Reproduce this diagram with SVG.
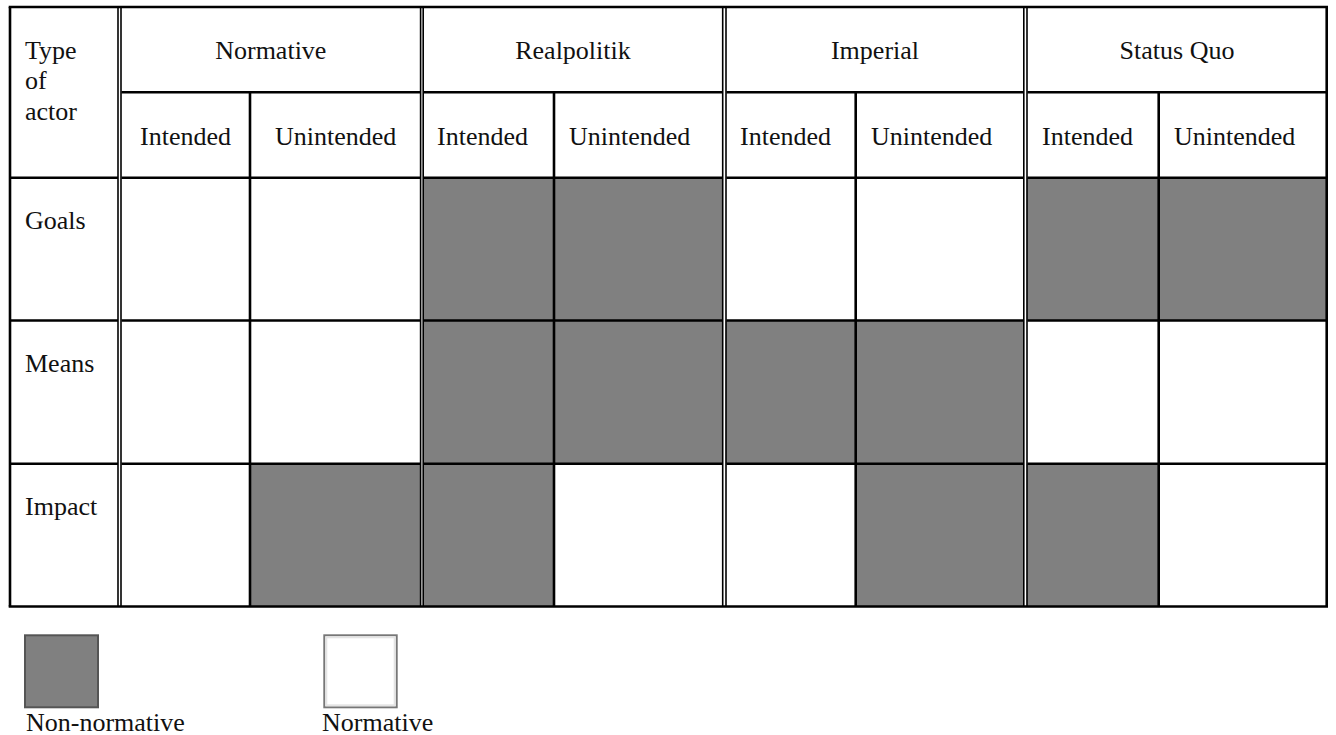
<svg xmlns="http://www.w3.org/2000/svg" width="1336" height="735" viewBox="0 0 1336 735">
<style>
.c{text-anchor:middle}
.g{fill:#808080}
.l{stroke:#000;stroke-width:2.6;fill:none}
.d{stroke:#000;stroke-width:1.6;fill:none}
</style>
<rect width="1336" height="735" fill="#fff"/>
<g id="cells">
<g id="row-goals">
<rect class="g" x="423" y="177.7" width="131" height="142.8"/>
<rect class="g" x="554" y="177.7" width="168.7" height="142.8"/>
<rect class="g" x="1026.8" y="177.7" width="131.9" height="142.8"/>
<rect class="g" x="1158.7" y="177.7" width="168" height="142.8"/>
</g>
<g id="row-means">
<rect class="g" x="423" y="320.5" width="131" height="143.2"/>
<rect class="g" x="554" y="320.5" width="168.7" height="143.2"/>
<rect class="g" x="725.8" y="320.5" width="129.9" height="143.2"/>
<rect class="g" x="855.7" y="320.5" width="167.8" height="143.2"/>
</g>
<g id="row-impact">
<rect class="g" x="250" y="463.7" width="170.5" height="142.8"/>
<rect class="g" x="423" y="463.7" width="131" height="142.8"/>
<rect class="g" x="855.7" y="463.7" width="167.8" height="142.8"/>
<rect class="g" x="1026.8" y="463.7" width="131.9" height="142.8"/>
</g>
</g>
<g id="grid">
<line class="l" x1="8.7" y1="7" x2="1328" y2="7"/>
<line class="l" x1="8.7" y1="606.5" x2="1328" y2="606.5"/>
<line class="l" x1="10" y1="7" x2="10" y2="606.5"/>
<line class="l" x1="1326.7" y1="7" x2="1326.7" y2="606.5"/>
<line class="d" x1="118" y1="7" x2="118" y2="606.5"/>
<line class="d" x1="121" y1="7" x2="121" y2="606.5"/>
<line class="d" x1="420.6" y1="7" x2="420.6" y2="606.5"/>
<line class="d" x1="423.2" y1="7" x2="423.2" y2="606.5"/>
<line class="d" x1="722.7" y1="7" x2="722.7" y2="606.5"/>
<line class="d" x1="726" y1="7" x2="726" y2="606.5"/>
<line class="d" x1="1023.8" y1="7" x2="1023.8" y2="606.5"/>
<line class="d" x1="1027" y1="7" x2="1027" y2="606.5"/>
<line class="l" x1="250" y1="92.3" x2="250" y2="606.5"/>
<line class="l" x1="554" y1="92.3" x2="554" y2="606.5"/>
<line class="l" x1="855.7" y1="92.3" x2="855.7" y2="606.5"/>
<line class="l" x1="1158.7" y1="92.3" x2="1158.7" y2="606.5"/>
<path class="l" d="M121.5 92.3H420.2M423.6 92.3H722.3M726.4 92.3H1023.4M1027.4 92.3H1326.7"/>
<path class="l" d="M10 177.7H118M121.5 177.7H420.2M423.6 177.7H722.3M726.4 177.7H1023.4M1027.4 177.7H1326.7"/>
<path class="l" d="M10 320.5H118M121.5 320.5H420.2M423.6 320.5H722.3M726.4 320.5H1023.4M1027.4 320.5H1326.7"/>
<path class="l" d="M10 463.7H118M121.5 463.7H420.2M423.6 463.7H722.3M726.4 463.7H1023.4M1027.4 463.7H1326.7"/>
</g>
<g id="labels" font-family="Liberation Serif" font-size="26" fill="#111">
<text x="25" y="59">Type</text>
<text x="25" y="89">of</text>
<text x="25" y="120">actor</text>
<text class="c" x="270.8" y="59">Normative</text>
<text class="c" x="573" y="59">Realpolitik</text>
<text class="c" x="875" y="59">Imperial</text>
<text class="c" x="1177" y="59">Status Quo</text>
<text x="140" y="145">Intended</text>
<text x="275" y="145">Unintended</text>
<text x="437" y="145">Intended</text>
<text x="569" y="145">Unintended</text>
<text x="740" y="145">Intended</text>
<text x="871" y="145">Unintended</text>
<text x="1042" y="145">Intended</text>
<text x="1174" y="145">Unintended</text>
<text x="25" y="229">Goals</text>
<text x="25" y="372">Means</text>
<text x="25" y="515">Impact</text>
</g>
<g id="legend-nonnormative" font-family="Liberation Serif" font-size="26" fill="#111">
<rect x="25" y="635.3" width="73" height="72" fill="#808080" stroke="#555" stroke-width="2"/>
<text x="26" y="731">Non-normative</text>
</g>
<g id="legend-normative" font-family="Liberation Serif" font-size="26" fill="#111">
<rect x="324.3" y="635.3" width="72.4" height="72" fill="#fff" stroke="#777" stroke-width="2"/>
<rect x="326.3" y="637.3" width="68.4" height="68" fill="none" stroke="#e4e4e4" stroke-width="2"/>
<text x="322" y="731">Normative</text>
</g>
</svg>
